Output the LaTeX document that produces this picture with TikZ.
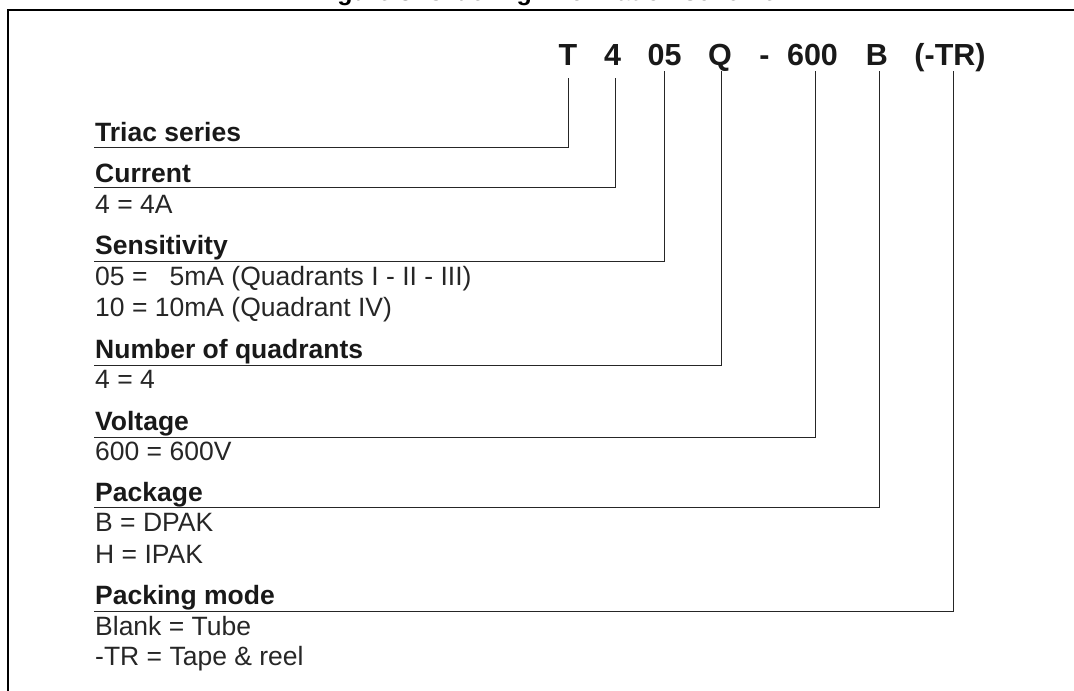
\documentclass[tikz,border=0pt]{standalone}
\usepackage{fontspec}
\setmainfont{Liberation Sans}
\begin{document}
\begin{tikzpicture}[x=1pt,y=-1pt,
  code/.style={font=\fontsize{30.5}{32}\selectfont\bfseries, anchor=base, inner sep=0, text=black!90},
  head/.style={font=\fontsize{26.5}{28}\selectfont\bfseries, anchor=base west, inner sep=0, text=black!90},
  body/.style={font=\fontsize{26.5}{28}\selectfont, anchor=base west, inner sep=0, text=black!85},
  titletext/.style={font=\fontsize{25}{27}\selectfont\bfseries, anchor=base west, inner sep=0, text=black},
  conn/.style={draw=black!85, line width=1pt},
  frame/.style={draw=black, line width=2.4pt}]
\useasboundingbox (0,0) rectangle (1074,691);
\clip (0,0) rectangle (1074,691);
% cut title
\node[titletext] (title) at (315,0.5) {Figure 3.\ Ordering information scheme};
% frame
\draw[frame] (8,10) rectangle (1090,710);
% code letters
\node[code] (cT)  at (568,65) {T};
\node[code] (c4)  at (612.5,65) {4};
\node[code] (c05) at (664.5,65) {05};
\node[code] (cQ)  at (720,65) {Q};
\node[code] (cD)  at (764.5,65) {-};
\node[code] (c600) at (812.5,65) {600};
\node[code] (cB)  at (877,65) {B};
\node[code] (cTR) at (950,65) {(-TR)};
% connector tops
\coordinate (tT)   at (568.3,78);
\coordinate (t4)   at (615,78);
\coordinate (t05)  at (664.3,71);
\coordinate (tQ)   at (721.7,71);
\coordinate (t600) at (815,71);
\coordinate (tB)   at (879,71);
\coordinate (tTR)  at (953.3,71);
% connector ends
\coordinate (eT)   at (94,147);
\coordinate (e4)   at (94,187.7);
\coordinate (e05)  at (94,261);
\coordinate (eQ)   at (94,365);
\coordinate (e600) at (94,437);
\coordinate (eB)   at (94,507.7);
\coordinate (eTR)  at (94,611.7);
\draw[conn] (tT) |- (eT);
\draw[conn] (t4) |- (e4);
\draw[conn] (t05) |- (e05);
\draw[conn] (tQ) |- (eQ);
\draw[conn] (t600) |- (e600);
\draw[conn] (tB) |- (eB);
\draw[conn] (tTR) |- (eTR);
% labels
\node[head] (hT) at (95,141.7) {Triac series};
\node[head] (h4) at (95,182.5) {Current};
\node[body] (b4) at (95,213) {4 = 4A};
\node[head] (h05) at (95,254.5) {Sensitivity};
\node[body] (b05a) at (95,285) {05 = \hphantom{1}5mA (Quadrants I - II - III)};
\node[body] (b05b) at (95,316.5) {10 = 10mA (Quadrant IV)};
\node[head] (hQ) at (95,358) {Number of quadrants};
\node[body] (bQ) at (95,388.5) {4 = 4};
\node[head] (h600) at (95,430) {Voltage};
\node[body] (b600) at (95,460) {600 = 600V};
\node[head] (hB) at (95,501.5) {Package};
\node[body] (bBa) at (95,531.5) {B = DPAK};
\node[body] (bBb) at (95,563) {H = IPAK};
\node[head] (hTR) at (95,604.5) {Packing mode};
\node[body] (bTRa) at (95,635) {Blank = Tube};
\node[body] (bTRb) at (95,665.5) {-TR = Tape \& reel};
\end{tikzpicture}
\end{document}
